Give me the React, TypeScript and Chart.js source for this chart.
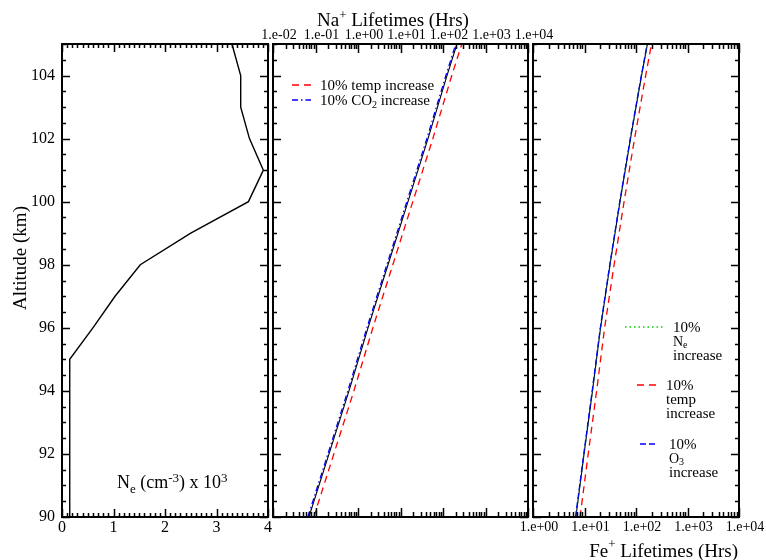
import React, { useEffect, useRef } from 'react';
import { Chart, registerables } from 'chart.js';

Chart.register(...registerables);

const W = 766;
const H = 560;
const FONT = '"Liberation Serif", "Times New Roman", serif';

// ---------- Panel 1: electron density ----------
const neAltitudes = [90, 91, 92, 93, 94, 95, 96, 97, 98, 99, 100, 101, 102, 103, 104, 105];
const neValues = [0.15, 0.15, 0.15, 0.15, 0.15, 0.15, 0.6, 1.03, 1.52, 2.5, 3.62, 3.91, 3.64, 3.47, 3.47, 3.3];
const neTicks = [0, 1, 2, 3, 4];
const altitudeTicks = [90, 92, 94, 96, 98, 100, 102, 104];

// ---------- Panel 2: Na+ lifetimes ----------
const lifetimeAltitudes = [90, 92, 94, 96, 98, 100, 102, 104, 105];
const naBaseline = [0.07, 0.208, 0.614, 1.72, 5.08, 15.0, 44.4, 124, 213];
const naTempIncrease = [0.091, 0.27, 0.8, 2.24, 6.6, 19.5, 57.7, 161, 277];
const naCO2Increase = [0.066, 0.196, 0.577, 1.62, 4.78, 14.1, 41.7, 117, 200];
const naTickValues = [1e-2, 1e-1, 1e0, 1e1, 1e2, 1e3, 1e4];
const naTickLabels = ['1.e-02', '1.e-01', '1.e+00', '1.e+01', '1.e+02', '1.e+03', '1.e+04'];

// ---------- Panel 3: Fe+ lifetimes ----------
const feBaseline = [6.8, 9.8, 14.3, 20.5, 31.3, 48.9, 78.2, 128, 167];
const feNeIncrease = [6.75, 9.7, 14.2, 20.3, 31.0, 48.5, 77.5, 127, 165];
const feTempIncrease = [8.2, 11.8, 17.2, 24.6, 37.6, 58.7, 93.8, 154, 200];
const feO3Increase = [6.7, 9.7, 14.1, 20.3, 31.0, 48.4, 77.4, 127, 165];
const feTickValues = [1e0, 1e1, 1e2, 1e3, 1e4];
const feTickLabels = ['1.e+00', '1.e+01', '1.e+02', '1.e+03', '1.e+04'];

const RED = '#ff0000';
const BLUE = '#0000ff';
const GREEN = '#00d000';
const DASH_TEMP = [7, 5];
const DASH_CO2 = [6, 3, 1.5, 3];
const DASH_NE = [1.5, 3];
const DASH_O3 = [6, 3];

const pts = (xs: number[], ys: number[]) => xs.map((x, i) => ({ x, y: ys[i] }));

const range = (a: number, b: number, step: number) => {
  const out: number[] = [];
  for (let i = 0; a + i * step <= b + 1e-9; i++) out.push(+(a + i * step).toFixed(6));
  return out;
};
const logMinor = (d0: number, d1: number) => {
  const out: number[] = [];
  for (let d = d0; d < d1; d++) for (let k = 2; k <= 9; k++) out.push(k * Math.pow(10, d));
  return out;
};

type TickSpec = { major: number[]; minor: number[]; majorLen: number; minorLen: number };

const altTickSpec: TickSpec = {
  major: altitudeTicks,
  minor: range(90, 105, 0.5).filter((v) => !altitudeTicks.includes(v)),
  majorLen: 8,
  minorLen: 4,
};

function framePlugin(id: string, xs: TickSpec, ys: TickSpec) {
  return {
    id,
    afterDraw(chart: any) {
      const { ctx, chartArea } = chart;
      const { left, right, top, bottom } = chartArea;
      const sx = chart.scales.x;
      const sy = chart.scales.y;
      ctx.save();
      ctx.strokeStyle = '#000';
      ctx.lineWidth = 1.5;
      ctx.beginPath();
      const drawY = (vals: number[], len: number) => {
        vals.forEach((v) => {
          const p = Math.round(sy.getPixelForValue(v)) + 0.5;
          ctx.moveTo(left, p);
          ctx.lineTo(left + len, p);
          ctx.moveTo(right, p);
          ctx.lineTo(right - len, p);
        });
      };
      const drawX = (vals: number[], len: number) => {
        vals.forEach((v) => {
          const p = Math.round(sx.getPixelForValue(v)) + 0.5;
          ctx.moveTo(p, bottom);
          ctx.lineTo(p, bottom - len);
          ctx.moveTo(p, top);
          ctx.lineTo(p, top + len);
        });
      };
      drawY(ys.major, ys.majorLen);
      drawY(ys.minor, ys.minorLen);
      drawX(xs.major, xs.majorLen);
      drawX(xs.minor, xs.minorLen);
      ctx.stroke();
      ctx.lineWidth = 2;
      ctx.strokeRect(left, top, right - left, bottom - top);
      ctx.restore();
    },
  };
}

type Part = { t: string; size: number; dy?: number };
function drawParts(ctx: CanvasRenderingContext2D, x: number, y: number, parts: Part[], align: 'left' | 'right' | 'center' = 'left') {
  ctx.save();
  ctx.fillStyle = '#000';
  ctx.textBaseline = 'alphabetic';
  ctx.textAlign = 'left';
  const widths = parts.map((p) => {
    ctx.font = `${p.size}px ${FONT}`;
    return ctx.measureText(p.t).width;
  });
  const total = widths.reduce((a, b) => a + b, 0);
  let cx = align === 'left' ? x : align === 'right' ? x - total : x - total / 2;
  parts.forEach((p, i) => {
    ctx.font = `${p.size}px ${FONT}`;
    ctx.fillText(p.t, cx, y + (p.dy || 0));
    cx += widths[i];
  });
  ctx.restore();
}

function sample(ctx: CanvasRenderingContext2D, x0: number, x1: number, y: number, color: string, dash: number[]) {
  ctx.save();
  ctx.strokeStyle = color;
  ctx.lineWidth = 1.3;
  ctx.setLineDash(dash);
  ctx.beginPath();
  ctx.moveTo(x0, y);
  ctx.lineTo(x1, y);
  ctx.stroke();
  ctx.restore();
}

const tickFont = (size: number) => ({ family: FONT, size });

function baseOptions(padding: any, scales: any) {
  return {
    animation: false,
    responsive: false,
    events: [],
    layout: { padding },
    plugins: { legend: { display: false }, tooltip: { enabled: false }, title: { display: false } },
    elements: { point: { radius: 0 }, line: { tension: 0 } },
    scales,
  };
}

function line(data: any[], color: string, width: number, dash: number[], order: number) {
  return { data, borderColor: color, borderWidth: width, borderDash: dash, pointRadius: 0, fill: false, order };
}

function config1(): any {
  const textPlugin = {
    id: 'text1',
    afterDraw(chart: any) {
      const ctx = chart.ctx as CanvasRenderingContext2D;
      ctx.save();
      ctx.translate(26, 258);
      ctx.rotate(-Math.PI / 2);
      drawParts(ctx, 0, 0, [{ t: 'Altitude (km)', size: 19 }], 'center');
      ctx.restore();
      drawParts(ctx, 117, 488, [
        { t: 'N', size: 18 },
        { t: 'e', size: 13, dy: 5 },
        { t: ' (cm', size: 18 },
        { t: '-3', size: 13, dy: -6 },
        { t: ') x 10', size: 18 },
        { t: '3', size: 13, dy: -6 },
      ]);
    },
  };
  return {
    type: 'line',
    data: { datasets: [line(pts(neValues, neAltitudes), '#000', 1.4, [], 0)] },
    options: baseOptions(
      { left: 0, right: W - 268, top: 44, bottom: 0 },
      {
        x: {
          type: 'linear',
          position: 'bottom',
          min: 0,
          max: 4,
          afterBuildTicks: (s: any) => {
            s.ticks = neTicks.map((v) => ({ value: v }));
          },
          afterFit: (s: any) => {
            s.height = 43;
          },
          grid: { display: false, drawTicks: false },
          border: { display: false },
          ticks: { font: tickFont(16), color: '#000', padding: 1, maxRotation: 0, minRotation: 0, autoSkip: false, callback: (v: any) => String(v) },
        },
        y: {
          type: 'linear',
          position: 'left',
          min: 90,
          max: 105,
          afterBuildTicks: (s: any) => {
            s.ticks = altitudeTicks.map((v) => ({ value: v }));
          },
          afterFit: (s: any) => {
            s.width = 62;
          },
          grid: { display: false, drawTicks: false },
          border: { display: false },
          ticks: { font: tickFont(16), color: '#000', padding: 7, autoSkip: false, callback: (v: any) => String(v) },
        },
      }
    ),
    plugins: [
      framePlugin('frame1', { major: neTicks, minor: range(0, 4, 0.1).filter((v) => !neTicks.includes(v)), majorLen: 8, minorLen: 4 }, altTickSpec),
      textPlugin,
    ],
  };
}

function config2(): any {
  const textPlugin = {
    id: 'text2',
    afterDraw(chart: any) {
      const ctx = chart.ctx as CanvasRenderingContext2D;
      drawParts(ctx, 317, 26, [
        { t: 'Na', size: 19 },
        { t: '+', size: 13, dy: -7 },
        { t: ' Lifetimes (Hrs)', size: 19 },
      ]);
      sample(ctx, 292, 312, 85, RED, DASH_TEMP);
      drawParts(ctx, 320, 90, [{ t: '10% temp increase', size: 15 }]);
      sample(ctx, 292, 311, 100, BLUE, DASH_CO2);
      drawParts(ctx, 320, 105, [
        { t: '10% CO', size: 15 },
        { t: '2', size: 10, dy: 3 },
        { t: ' increase', size: 15 },
      ]);
    },
  };
  return {
    type: 'line',
    data: {
      datasets: [
        line(pts(naBaseline, lifetimeAltitudes), '#000', 1.1, [], 2),
        line(pts(naCO2Increase, lifetimeAltitudes), BLUE, 1.3, DASH_CO2, 1),
        line(pts(naTempIncrease, lifetimeAltitudes), RED, 1.3, DASH_TEMP, 0),
      ],
    },
    options: baseOptions(
      { left: 273, right: W - 528, top: 0, bottom: H - 517 },
      {
        x: {
          type: 'logarithmic',
          position: 'top',
          min: 1e-2,
          max: 1e4,
          afterBuildTicks: (s: any) => {
            s.ticks = naTickValues.map((v) => ({ value: v }));
          },
          afterFit: (s: any) => {
            s.height = 44;
          },
          grid: { display: false, drawTicks: false },
          border: { display: false },
          ticks: {
            font: tickFont(14),
            color: '#000',
            padding: 0,
            labelOffset: 6,
            maxRotation: 0,
            minRotation: 0,
            autoSkip: false,
            callback: (_v: any, i: number) => naTickLabels[i],
          },
        },
        y: { type: 'linear', display: false, min: 90, max: 105 },
      }
    ),
    plugins: [
      framePlugin('frame2', { major: naTickValues, minor: logMinor(-2, 4), majorLen: 9, minorLen: 5 }, altTickSpec),
      textPlugin,
    ],
  };
}

function config3(): any {
  const textPlugin = {
    id: 'text3',
    afterDraw(chart: any) {
      const ctx = chart.ctx as CanvasRenderingContext2D;
      drawParts(
        ctx,
        738,
        557,
        [
          { t: 'Fe', size: 19 },
          { t: '+', size: 13, dy: -9 },
          { t: ' Lifetimes (Hrs)', size: 19 },
        ],
        'right'
      );
      sample(ctx, 625, 663, 327, GREEN, DASH_NE);
      drawParts(ctx, 673, 332, [{ t: '10%', size: 15 }]);
      drawParts(ctx, 673, 346, [
        { t: 'N', size: 14 },
        { t: 'e', size: 10, dy: 2 },
      ]);
      drawParts(ctx, 673, 360, [{ t: 'increase', size: 15 }]);

      sample(ctx, 637, 658, 385, RED, DASH_TEMP);
      drawParts(ctx, 666, 390, [{ t: '10%', size: 15 }]);
      drawParts(ctx, 666, 404, [{ t: 'temp', size: 15 }]);
      drawParts(ctx, 666, 418, [{ t: 'increase', size: 15 }]);

      sample(ctx, 640, 658, 444, BLUE, DASH_O3);
      drawParts(ctx, 669, 449, [{ t: '10%', size: 15 }]);
      drawParts(ctx, 669, 463, [
        { t: 'O', size: 14 },
        { t: '3', size: 10, dy: 2 },
      ]);
      drawParts(ctx, 669, 477, [{ t: 'increase', size: 15 }]);
    },
  };
  return {
    type: 'line',
    data: {
      datasets: [
        line(pts(feBaseline, lifetimeAltitudes), '#000', 1.1, [], 3),
        line(pts(feNeIncrease, lifetimeAltitudes), GREEN, 1.3, DASH_NE, 2),
        line(pts(feO3Increase, lifetimeAltitudes), BLUE, 1.3, DASH_O3, 1),
        line(pts(feTempIncrease, lifetimeAltitudes), RED, 1.3, DASH_TEMP, 0),
      ],
    },
    options: baseOptions(
      { left: 533, right: W - 739, top: 44, bottom: 0 },
      {
        x: {
          type: 'logarithmic',
          position: 'bottom',
          min: 1,
          max: 1e4,
          afterBuildTicks: (s: any) => {
            s.ticks = feTickValues.map((v) => ({ value: v }));
          },
          afterFit: (s: any) => {
            s.height = 43;
          },
          grid: { display: false, drawTicks: false },
          border: { display: false },
          ticks: {
            font: tickFont(14),
            color: '#000',
            padding: 2,
            labelOffset: 6,
            maxRotation: 0,
            minRotation: 0,
            autoSkip: false,
            callback: (_v: any, i: number) => feTickLabels[i],
          },
        },
        y: { type: 'linear', display: false, min: 90, max: 105 },
      }
    ),
    plugins: [
      framePlugin('frame3', { major: feTickValues, minor: logMinor(0, 4), majorLen: 9, minorLen: 5 }, altTickSpec),
      textPlugin,
    ],
  };
}

export default function App() {
  const r1 = useRef<HTMLCanvasElement>(null);
  const r2 = useRef<HTMLCanvasElement>(null);
  const r3 = useRef<HTMLCanvasElement>(null);

  useEffect(() => {
    const charts = [
      new Chart(r1.current as HTMLCanvasElement, config1()),
      new Chart(r2.current as HTMLCanvasElement, config2()),
      new Chart(r3.current as HTMLCanvasElement, config3()),
    ];
    return () => charts.forEach((c) => c.destroy());
  }, []);

  const cs: React.CSSProperties = { position: 'absolute', left: 0, top: 0, width: W, height: H, display: 'block' };
  return (
    <div style={{ position: 'absolute', left: 0, top: 0, width: W, height: H, background: '#fff' }}>
      <canvas ref={r1} width={W} height={H} style={cs} />
      <canvas ref={r2} width={W} height={H} style={cs} />
      <canvas ref={r3} width={W} height={H} style={cs} />
    </div>
  );
}
